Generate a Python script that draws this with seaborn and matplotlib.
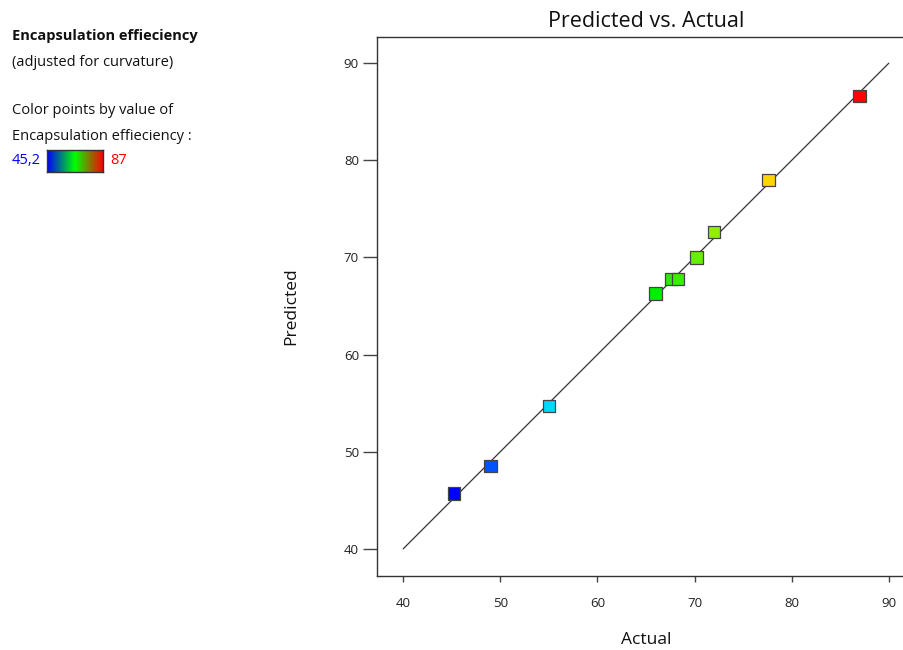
import numpy as np
import pandas as pd
import matplotlib

matplotlib.use("Agg")
import matplotlib.pyplot as plt
import seaborn as sns
from matplotlib.colors import LinearSegmentedColormap, Normalize

# Values
actual = [45.2, 49.0, 55.0, 66.0, 67.6, 68.3, 70.2, 72.0, 77.6, 87.0]
predicted = [45.7, 48.5, 54.7, 66.3, 67.8, 67.8, 70.0, 72.6, 78.0, 86.6]
ticks = [40, 50, 60, 70, 80, 90]
ee_min, ee_max = 45.2, 87.0

df = pd.DataFrame({"Actual": actual, "Predicted": predicted})

point_cmap = LinearSegmentedColormap.from_list(
    "ee", ["#0000ff", "#00e5ff", "#00f000", "#ffee00", "#ff0000"]
)
bar_cmap = LinearSegmentedColormap.from_list("bar", ["#0000ff", "#00ff00", "#ff0000"])

sns.set_theme(style="white")
plt.rcParams["font.family"] = ["Open Sans", "DejaVu Sans"]

fig = plt.figure(figsize=(9.04, 6.5), dpi=100)
# axes run a little past the right edge, like the reference
ax = fig.add_axes([377 / 904, 1 - 576 / 650, (915 - 377) / 904, (576 - 37) / 650])

ax.plot([40, 90], [40, 90], color="#333333", lw=0.9, zorder=1)
sns.scatterplot(
    data=df, x="Actual", y="Predicted", hue="Actual",
    palette=point_cmap, hue_norm=Normalize(ee_min, ee_max),
    marker="s", s=80, edgecolor="#444444", linewidth=0.9,
    legend=False, ax=ax, zorder=3,
)

ax.set_xlim(37.3, 92.7)
ax.set_ylim(37.2, 92.7)
ax.set_xticks(ticks)
ax.set_yticks(ticks)
ax.tick_params(axis="x", direction="out", length=4, width=1, color="#444444",
               labelsize=9.5, pad=11, labelcolor="#222222")
ax.tick_params(axis="y", direction="out", length=10, width=1, color="#444444",
               labelsize=9.5, pad=3, labelcolor="#222222")
ax.tick_params(bottom=True, left=True)
for side, sp in ax.spines.items():
    sp.set_color("#333333")
    sp.set_linewidth(1.0)
ax.spines["right"].set_visible(False)

ax.set_title("Predicted vs. Actual", fontsize=15.5, pad=7, color="#111111")
ax.set_xlabel("Actual", fontsize=12.5, labelpad=16, color="#111111")
ax.set_ylabel("Predicted", fontsize=12.5, labelpad=32, color="#111111")

# left-hand legend text
txt = dict(fontsize=10.5, va="center", color="#111111")
fig.text(12 / 904, 1 - 36 / 650, "Encapsulation effieciency", fontweight="bold", **txt)
fig.text(12 / 904, 1 - 62 / 650, "(adjusted for curvature)", **txt)
fig.text(12 / 904, 1 - 111 / 650, "Color points by value of", **txt)
fig.text(12 / 904, 1 - 137 / 650, "Encapsulation effieciency :", **txt)
fig.text(12 / 904, 1 - 161 / 650, "45,2", fontsize=10.5, va="center", color="#0000ff")
fig.text(110 / 904, 1 - 161 / 650, "87", fontsize=10.5, va="center", color="#ff0000")

cax = fig.add_axes([47 / 904, 1 - 172 / 650, 56 / 904, 22 / 650])
cax.imshow(np.linspace(0, 1, 256)[None, :], aspect="auto", cmap=bar_cmap)
cax.set_xticks([])
cax.set_yticks([])
for sp in cax.spines.values():
    sp.set_color("#333333")
    sp.set_linewidth(1.0)

fig.savefig("out.png", dpi=100)
